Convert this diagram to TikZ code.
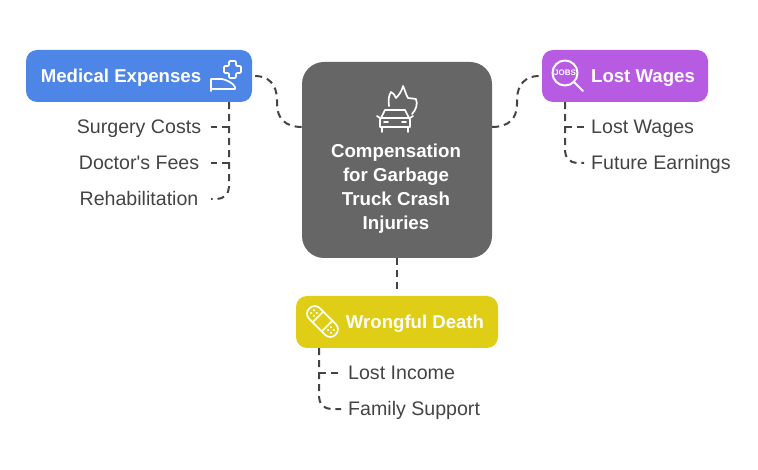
\documentclass[tikz,border=0pt]{standalone}
\usepackage{fontspec}
\setmainfont{Liberation Sans}[Ligatures=TeXOff]
\usetikzlibrary{calc}
\definecolor{medblue}{HTML}{4E86E8}
\definecolor{lostpurple}{HTML}{B85BE3}
\definecolor{wrongyellow}{HTML}{E0CD15}
\definecolor{coregray}{HTML}{666666}
\definecolor{inkgray}{HTML}{444444}
\tikzset{
  x=1pt,y=-1pt,
  boxnode/.style={draw=none,rounded corners=11pt,inner sep=0pt},
  headtext/.style={text=white,inner sep=0pt,font=\fontsize{18.6}{18.6}\selectfont\bfseries,text height=14pt,text depth=0pt},
  coretext/.style={text=white,inner sep=0pt,align=center,font=\fontsize{18.7}{24}\selectfont\bfseries},
  leafL/.style={text=inkgray,inner sep=0pt,minimum width=144pt,font=\fontsize{19.6}{19.6}\selectfont,text height=14pt,text depth=1pt},
  leafR/.style={text=inkgray,inner xsep=7pt,inner ysep=0pt,anchor=west,font=\fontsize{19.6}{19.6}\selectfont,text height=14pt,text depth=1pt},
  conn/.style={draw=inkgray,line width=2pt,dash pattern=on 7pt off 5pt},
  icon/.style={draw=white,line width=1.7pt,line join=round,line cap=round},
}
\begin{document}
\begin{tikzpicture}
\useasboundingbox (0,0) rectangle (758,470);
% boxes
\node[boxnode,fill=medblue,minimum width=226pt,minimum height=52pt] (med) at (139,76) {};
\node[boxnode,fill=lostpurple,minimum width=166pt,minimum height=52pt] (lost) at (625,76) {};
\node[boxnode,fill=wrongyellow,minimum width=202pt,minimum height=52pt] (wrong) at (397,322) {};
\node[boxnode,fill=coregray,rounded corners=22pt,minimum width=190pt,minimum height=196pt] (core) at (397,160) {};
% labels
\node[headtext] (medt) at (121,76) {Medical Expenses};
\node[headtext] (lostt) at (643,76) {Lost Wages};
\node[headtext] (wrongt) at (415,322) {Wrongful Death};
\node[coretext] (coret) at (396,189) {Compensation\\for Garbage\\Truck Crash\\Injuries};
% leaves
\node[leafL] (surgery) at (139,127) {Surgery Costs};
\node[leafL] (doctor) at (139,163) {Doctor's Fees};
\node[leafL] (rehab) at (139,199) {Rehabilitation};
\node[leafR] (wages) at (584,127) {Lost Wages};
\node[leafR] (future) at (584,163) {Future Earnings};
\node[leafR] (income) at (341,373) {Lost Income};
\node[leafR] (family) at (341,409) {Family Support};
% connectors
\coordinate (medstem) at ($(med.south)+(90,0)$);
\coordinate (loststem) at ($(lost.south)+(-60,0)$);
\coordinate (wrongstem) at ($(wrong.south)+(-78,0)$);
\coordinate (corewest) at ($(core.west)+(0,-33)$);
\coordinate (coreeast) at ($(core.east)+(0,-33)$);
\draw[conn] ($(med.east)+(3,0)$) .. controls (268,76) and (277,84) .. (277,100) -- (277,104) .. controls (277,119) and (286,127) .. (corewest);
\draw[conn] (coreeast) .. controls (508,127) and (517,119) .. (517,104) -- (517,100) .. controls (517,84) and (526,76) .. ($(lost.west)+(-3,0)$);
\draw[conn] (core.south) -- ($(wrong.north)+(0,-2)$);
\draw[conn,rounded corners=12pt] (medstem) |- (rehab.east);
\draw[conn] (surgery.east -| medstem) -- (surgery.east);
\draw[conn] (doctor.east -| medstem) -- (doctor.east);
\draw[conn,rounded corners=12pt] (loststem) |- (future.west);
\draw[conn] (wages.west -| loststem) -- (wages.west);
\draw[conn,rounded corners=12pt] (wrongstem) |- (family.west);
\draw[conn] (income.west -| wrongstem) -- (income.west);
% fire-car icon
\draw[icon] (389,106) .. controls (388,100) and (389,95) .. (391,92) .. controls (393,93) and (395,95) .. (396,98) .. controls (399,95) and (402,91) .. (403,86) .. controls (405,90) and (406,95) .. (408,98) .. controls (411,99) and (414,98) .. (416,99) .. controls (418,104) and (416,110) .. (412,114);
\draw[icon] (381,118) -- (385,110) -- (405,110) -- (409,118);
\draw[icon] (380,127) -- (380,120) .. controls (380,119) and (380,118) .. (382,118) -- (408,118) .. controls (410,118) and (410,119) .. (410,120) -- (410,127) -- cycle;
\draw[icon] (377,116) -- (380,118) (413,116) -- (410,118);
\draw[icon] (382,127) -- (382,132) (408,127) -- (408,132);
\draw[icon] (384,122) -- (388,122) (402,122) -- (406,122);
% medical icon
\draw[icon,rounded corners=1pt] (229,61) -- (236,61) -- (236,66) -- (241,66) -- (241,73) -- (236,73) -- (236,78) -- (229,78) -- (229,73) -- (224,73) -- (224,66) -- (229,66) -- cycle;
\draw[icon] (211,91) -- (211,79) -- (222,79) .. controls (227,80) and (233,83) .. (235,87) -- (235,89) -- (211,89);
% jobs icon
\draw[icon,line width=2pt] (565,73) circle (12.5);
\draw[icon,line width=2pt] (574,82) -- (583,91);
\node[text=white,inner sep=0pt,font=\fontsize{8}{8}\selectfont\bfseries] (jobs) at (565,73) {JOBS};
% bandage icon
\begin{scope}[shift={(322.5,321.5)},rotate=-45]
\draw[icon,rounded corners=7pt] (-18.5,-7.5) rectangle (18.5,7.5);
\draw[icon] (-6.5,-7.5) -- (-6.5,7.5) (6.5,-7.5) -- (6.5,7.5);
\foreach \p in {-14,-10} \foreach \q in {-2,2} \fill[white] (\p,\q) circle (1.2);
\foreach \p in {10,14} \foreach \q in {-2,2} \fill[white] (\p,\q) circle (1.2);
\end{scope}
\end{tikzpicture}
\end{document}
